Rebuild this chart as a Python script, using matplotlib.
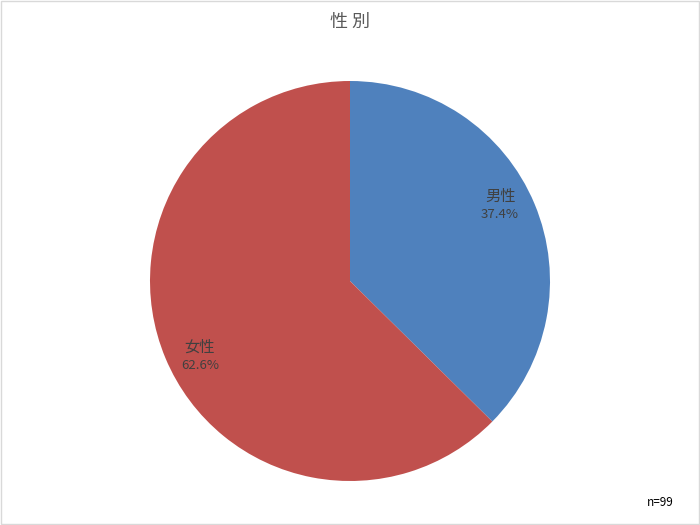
import matplotlib
matplotlib.use("Agg")
import matplotlib.pyplot as plt
import numpy as np

plt.rcParams['font.family'] = ['Noto Sans CJK JP', 'DejaVu Sans']

# data
categories = ['男性', '女性']
shares = [37.4, 62.6]
colors = ['#4F81BD', '#C0504D']
title = '性別'
note = 'n=99'

fig = plt.figure(figsize=(7, 5.25), dpi=100)
ax = fig.add_axes([150 / 700, 44 / 525, 400 / 700, 400 / 525])
wedges, _ = ax.pie(shares, colors=colors, startangle=90, counterclock=False,
                   wedgeprops=dict(linewidth=0))
ax.set_aspect('equal')
ax.set_xlim(-1, 1)
ax.set_ylim(-1, 1)

# excel puts the labels a touch off the wedge midline
for w, cat, val in zip(wedges, categories, shares):
    ang = np.deg2rad((w.theta1 + w.theta2) / 2 + 4)
    x, y = 0.84 * np.cos(ang), 0.84 * np.sin(ang)
    ax.text(x, y + 0.045, cat, ha='center', va='center', fontsize=11, color='#404040')
    ax.text(x, y - 0.045, f'{val:.1f}%', ha='center', va='center', fontsize=9.5, color='#404040')

fig.text(0.5, 1 - 22 / 525, ' '.join(title), ha='center', va='center', fontsize=13, color='#595959')
fig.text(1 - 40 / 700, 1 - 502 / 525, note, ha='center', va='center', fontsize=8.5, color='#000000')

fig.patches.append(plt.Rectangle((0.001, 0.001), 0.997, 0.997, transform=fig.transFigure,
                                 fill=False, edgecolor='#D9D9D9', linewidth=1))

fig.savefig('out.png', dpi=100)
